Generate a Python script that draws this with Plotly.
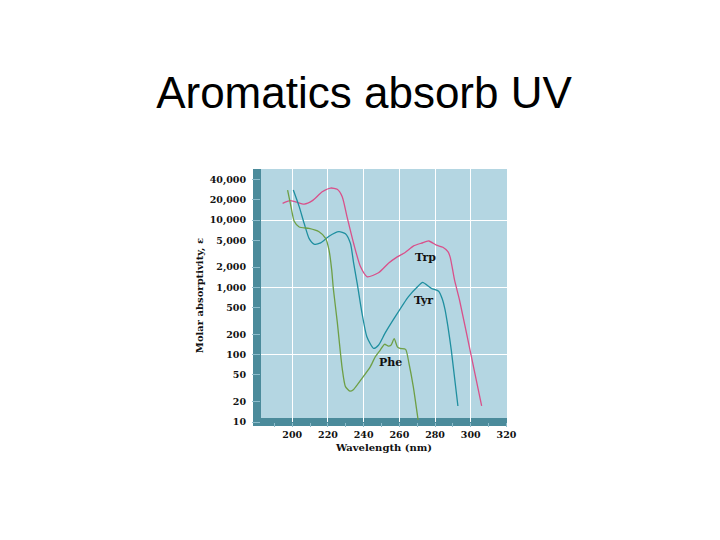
import math
import plotly.graph_objects as go

# wavelength (nm) / molar absorptivity
trp_nm = [194.6, 198.7, 202.0, 206.7, 211.3, 216.8, 221.5, 225.2, 228.0, 230.7, 234.4, 238.2,
          242.0, 248.3, 253.9, 258.0, 263.2, 268.0, 272.4, 276.5, 280.7, 284.4, 287.2, 288.5,
          290.9, 293.7, 299.6, 306.1]
trp_eps = [17800, 19500, 18700, 17300, 19500, 26400, 30000, 28700, 22300, 11200, 4500, 2040,
           1440, 1650, 2290, 2750, 3300, 4150, 4550, 4900, 4250, 3960, 3400, 2800,
           1290, 650, 117, 17.3]

tyr_nm = [200.6, 203.9, 206.7, 209.4, 212.2, 215.9, 220.6, 226.1, 229.8, 232.6, 234.4, 236.5,
          239.1, 241.8, 245.6, 248.3, 252.0, 257.6, 265.0, 270.6, 273.0, 277.9, 282.0, 284.0,
          285.5, 287.2, 289.1, 292.8]
tyr_eps = [28000, 15900, 8900, 5370, 4410, 4600, 5760, 6730, 6300, 4510, 2290, 1100,
           412, 185, 124, 138, 209, 364, 725, 1050, 1190, 970, 880, 680,
           480, 263, 117, 17.3]

phe_nm = [197.4, 199.3, 201.1, 203.9, 209.4, 215.0, 218.7, 220.6, 222.1, 223.0, 225.2, 228.0,
          229.8, 232.3, 234.4, 239.1, 243.7, 246.5, 249.3, 251.7, 253.9, 255.4, 257.1, 258.9,
          260.4, 263.5, 265.4, 267.8, 270.5]
phe_eps = [28000, 15900, 9600, 7900, 7530, 6730, 5370, 3590, 1820, 970, 310, 62,
           33.5, 28.8, 30.5, 44.6, 66, 93, 117, 143, 134, 139, 174, 131,
           124, 120, 74, 33.5, 10.7]

names = ["Trp", "Tyr", "Phe"]
colors = ["#d9508a", "#1f8fa0", "#6e9f45"]
label_nm = [274.4, 273.3, 255.0]
label_eps = [2800, 630, 76]

y_ticks = [10, 20, 50, 100, 200, 500, 1000, 2000, 5000, 10000, 20000, 40000]
y_text = ["10", "20", "50", "100", "200", "500", "1,000", "2,000", "5,000", "10,000", "20,000", "40,000"]
y_grid = [100, 1000, 10000]
x_ticks = [200, 220, 240, 260, 280, 300, 320]

serif = "DejaVu Serif"
band = "#4b8b9b"
panel = "#b4d6e2"
tick_col = "#8dbccb"

fig = go.Figure()
for nm, eps, name, col in zip([trp_nm, tyr_nm, phe_nm], [trp_eps, tyr_eps, phe_eps], names, colors):
    fig.add_trace(go.Scatter(x=nm, y=eps, mode="lines", name=name,
                             line=dict(color=col, width=1.3, shape="spline", smoothing=0.6)))

# annotations on a log axis take log10 positions
for name, x, y in zip(names, label_nm, label_eps):
    fig.add_annotation(x=x, y=math.log10(y), text=name, showarrow=False,
                       font=dict(family=serif, size=11, color="#111", weight="bold"))

# dark bands along the left and bottom edges
fig.add_shape(type="rect", xref="paper", yref="paper", x0=-0.0325, x1=0, y0=-0.0158, y1=1,
              fillcolor=band, line_width=0, layer="below")
fig.add_shape(type="rect", xref="paper", yref="paper", x0=-0.0325, x1=1, y0=-0.0158, y1=0.0158,
              fillcolor=band, line_width=0, layer="below")

fig.update_layout(
    width=720, height=540,
    margin=dict(l=253, r=221, t=161, b=126),
    paper_bgcolor="white", plot_bgcolor=panel,
    showlegend=False,
    title=dict(text="Aromatics absorb UV", x=0.5 - 4 / 720, xanchor="center", xref="container",
               y=1 - 85 / 540, yanchor="middle", yref="container",
               font=dict(family="Liberation Sans", size=44, color="black")),
)

fig.update_xaxes(
    range=[182.5, 320.3], tickvals=x_ticks, showgrid=True, gridcolor="white", gridwidth=1.2,
    zeroline=False, showline=False, ticks="outside", ticklen=4, tickcolor=tick_col,
    tickfont=dict(family=serif, size=9.5, color="#111", weight="bold"),
    minor=dict(dtick=10, tick0=0, ticks="outside", ticklen=4, tickcolor=tick_col, showgrid=False),
    title=dict(text="Wavelength (nm)", standoff=4,
               font=dict(family=serif, size=10, color="#111", weight="bold")),
)
fig.update_yaxes(
    type="log", range=[1, 4.76], tickvals=y_ticks, ticktext=y_text, showgrid=False,
    zeroline=False, showline=False, ticks="outside", ticklen=8, tickcolor=tick_col,
    ticklabelstandoff=4,
    tickfont=dict(family=serif, size=9.5, color="#111", weight="bold"),
    minor=dict(tickvals=y_grid, showgrid=True, gridcolor="white", gridwidth=1.2, ticks=""),
    title=dict(text="Molar absorptivity, ε", standoff=4,
               font=dict(family=serif, size=10, color="#111", weight="bold")),
)

fig.write_html("out.html")
